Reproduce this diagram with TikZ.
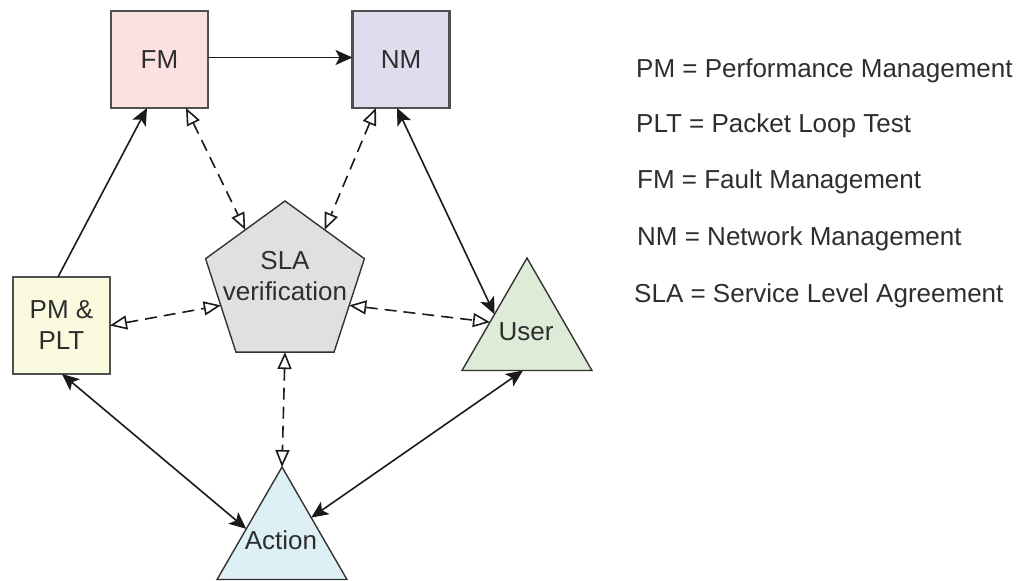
\documentclass[tikz,border=0pt]{standalone}
\usepackage{fontspec}
\setmainfont{Liberation Sans}
\usetikzlibrary{arrows.meta,shapes.geometric,calc}
\definecolor{fmfill}{HTML}{FCE1E1}
\definecolor{nmfill}{HTML}{DEDDEE}
\definecolor{pmfill}{HTML}{FAFADF}
\definecolor{slafill}{HTML}{E0E0E0}
\definecolor{userfill}{HTML}{DDEBD7}
\definecolor{actfill}{HTML}{DDF0F5}
\definecolor{boxline}{HTML}{505050}
\definecolor{polyline}{HTML}{333333}
\definecolor{lineblack}{HTML}{1A1A1A}
\definecolor{txt}{HTML}{2E2E2E}
\begin{document}
\begin{tikzpicture}[x=1pt,y=1pt,
  every node/.style={font=\fontsize{26}{31}\selectfont, text=txt},
  box/.style={rectangle, draw=boxline, line width=2.3pt, minimum size=97pt, inner sep=0pt, outer sep=0pt, align=center},
  poly/.style={regular polygon, draw=polyline, line width=1.4pt, inner sep=0pt, outer sep=0pt},
  conn/.style={draw=lineblack, line width=1.6pt},
  dconn/.style={conn, dash pattern=on 12pt off 7pt},
  fend/.style={-{Stealth[length=17pt,width=15pt,inset=4pt]}},
  fboth/.style={{Stealth[length=17pt,width=15pt,inset=4pt]}-{Stealth[length=17pt,width=15pt,inset=4pt]}},
  oboth/.style={{Triangle[open,fill=white,length=17pt,width=14pt]}-{Triangle[open,fill=white,length=17pt,width=14pt]}},
  legend/.style={anchor=base west, inner sep=0pt}
]
\useasboundingbox (0,0) rectangle (1029,-581);
% boxes
\node[box, fill=fmfill] (fm) at (159.5,-59.5) {FM};
\node[box, fill=nmfill] (nm) at (401,-59.5) {NM};
\node[box, fill=pmfill] (pm) at (61.5,-325.5) {PM \&\\PLT};
% pentagon
\node[poly, regular polygon sides=5, minimum size=167pt, fill=slafill] (sla) at (285,-284.5) {};
\node[align=center, inner sep=0pt] (slatxt) at (285,-276) {SLA\\verification};
% triangles
\node[poly, regular polygon sides=3, minimum size=150pt, fill=userfill] (user) at (527,-333) {};
\node[inner sep=0pt] (usertxt) at (526,-332) {User};
\node[poly, regular polygon sides=3, minimum size=150pt, fill=actfill] (action) at (282,-542) {};
\node[inner sep=0pt] (acttxt) at (281,-540) {Action};
% legend
\node[legend] (leg1) at (636,-77) {PM = Performance Management};
\node[legend] (leg2) at (636,-132) {PLT = Packet Loop Test};
\node[legend] (leg3) at (637,-188) {FM = Fault Management};
\node[legend] (leg4) at (637,-245) {NM = Network Management};
\node[legend] (leg5) at (634,-302) {SLA = Service Level Agreement};
% connectors
\draw[conn,fend] ([yshift=2pt]fm.east) -- ([yshift=2pt]nm.west);
\draw[conn,fend] ([xshift=-3.5pt]pm.north) -- ([xshift=-12.5pt]fm.south);
\draw[dconn,oboth] ([xshift=26.5pt]fm.south) -- (sla.side 1);
\draw[dconn,oboth] ([xshift=-25pt]nm.south) -- (sla.side 5);
\draw[conn,fboth] ([xshift=-4pt]nm.south) -- (user.side 1);
\draw[dconn,oboth] (pm.east) -- (sla.side 2);
\draw[dconn,oboth] (sla.side 4) -- ($(user.corner 1)!0.57!(user.corner 2)$);
\draw[dconn,oboth] (sla.side 3) -- (action.corner 1);
\draw[conn,fboth] ([xshift=0.5pt]pm.south) -- ($(action.corner 1)!0.55!(action.corner 2)$);
\draw[conn,fboth] ([xshift=-4pt]user.side 2) -- ($(action.corner 1)!0.45!(action.corner 3)$);
\end{tikzpicture}
\end{document}
